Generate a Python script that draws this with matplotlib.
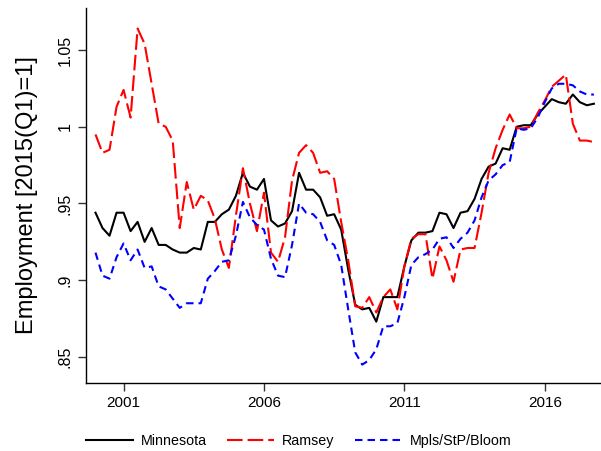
import numpy as np
import matplotlib
matplotlib.use("Agg")
import matplotlib.pyplot as plt

plt.rcParams['font.family'] = ['Liberation Sans', 'DejaVu Sans']

# quarterly, 2000q1 .. 2017q4
start_year = 2000
minnesota = [0.944, 0.934, 0.929, 0.944, 0.944, 0.932, 0.938, 0.925, 0.934, 0.923,
             0.923, 0.920, 0.918, 0.918, 0.921, 0.920, 0.938, 0.938, 0.943, 0.946,
             0.955, 0.970, 0.961, 0.959, 0.966, 0.939, 0.935, 0.937, 0.945, 0.970,
             0.959, 0.959, 0.954, 0.942, 0.943, 0.933, 0.907, 0.884, 0.881, 0.882,
             0.873, 0.889, 0.889, 0.889, 0.909, 0.926, 0.931, 0.931, 0.932, 0.944,
             0.943, 0.934, 0.944, 0.945, 0.953, 0.966, 0.974, 0.976, 0.986, 0.985,
             1.000, 1.001, 1.001, 1.008, 1.013, 1.018, 1.016, 1.015, 1.021, 1.016,
             1.014, 1.015]
ramsey = [0.995, 0.983, 0.985, 1.013, 1.024, 1.006, 1.064, 1.054, 1.028, 1.002,
          1.000, 0.991, 0.934, 0.964, 0.946, 0.955, 0.952, 0.940, 0.920, 0.908,
          0.942, 0.973, 0.950, 0.932, 0.957, 0.918, 0.912, 0.928, 0.965, 0.983,
          0.988, 0.983, 0.970, 0.971, 0.966, 0.938, 0.913, 0.883, 0.882, 0.889,
          0.879, 0.889, 0.894, 0.881, 0.909, 0.927, 0.930, 0.930, 0.901, 0.922,
          0.913, 0.899, 0.920, 0.921, 0.921, 0.944, 0.970, 0.986, 0.998, 1.008,
          0.999, 0.999, 1.000, 1.009, 1.017, 1.026, 1.030, 1.034, 1.002, 0.991,
          0.991, 0.990]
mpls = [0.918, 0.903, 0.901, 0.915, 0.924, 0.913, 0.920, 0.908, 0.909, 0.896,
        0.894, 0.888, 0.882, 0.885, 0.885, 0.885, 0.901, 0.906, 0.912, 0.913,
        0.929, 0.951, 0.941, 0.936, 0.933, 0.914, 0.903, 0.902, 0.923, 0.950,
        0.944, 0.943, 0.938, 0.926, 0.923, 0.910, 0.881, 0.853, 0.845, 0.848,
        0.855, 0.870, 0.870, 0.872, 0.889, 0.910, 0.915, 0.917, 0.920, 0.927,
        0.928, 0.921, 0.927, 0.931, 0.939, 0.954, 0.965, 0.969, 0.975, 0.977,
        0.999, 0.998, 0.999, 1.006, 1.016, 1.025, 1.028, 1.028, 1.027, 1.023,
        1.021, 1.021]

yticks = [0.85, 0.9, 0.95, 1.0, 1.05]
ytick_labels = ['.85', '.9', '.95', '1', '1.05']
xticks = [2001, 2006, 2011, 2016]

t = start_year + np.arange(len(minnesota)) / 4.0

fig = plt.figure(figsize=(6.01, 4.51), dpi=100)
ax = fig.add_axes([0.143, 0.151, 0.855, 0.831])

lw = 1.5
ax.plot(t, minnesota, color='black', lw=lw, label='Minnesota')
ax.plot(t, ramsey, color='red', lw=lw, dashes=(7.5, 2.4), label='Ramsey')
ax.plot(t, mpls, color='blue', lw=lw, dashes=(3.6, 2.4), label='Mpls/StP/Bloom')

ax.set_xlim(1999.66, 2017.96)
ax.set_ylim(0.8331, 1.0773)
ax.set_xticks(xticks)
ax.set_xticklabels([str(x) for x in xticks], fontsize=11)
ax.set_yticks(yticks)
ax.set_yticklabels(ytick_labels, fontsize=11.5, rotation=90, va='center')
ax.tick_params(length=6, width=1, color='#333333')
ax.spines['top'].set_visible(False)
ax.spines['right'].set_visible(False)
ax.spines['left'].set_linewidth(1)
ax.spines['bottom'].set_linewidth(1)
ax.set_ylabel('Employment [2015(Q1)=1]', fontsize=17, labelpad=14)

fig.legend(loc='lower center', bbox_to_anchor=(0.497, -0.022), ncol=3, frameon=False,
           fontsize=10.3, handlelength=3.3, columnspacing=1.4, handletextpad=0.55)

fig.savefig('out.png', dpi=100)
